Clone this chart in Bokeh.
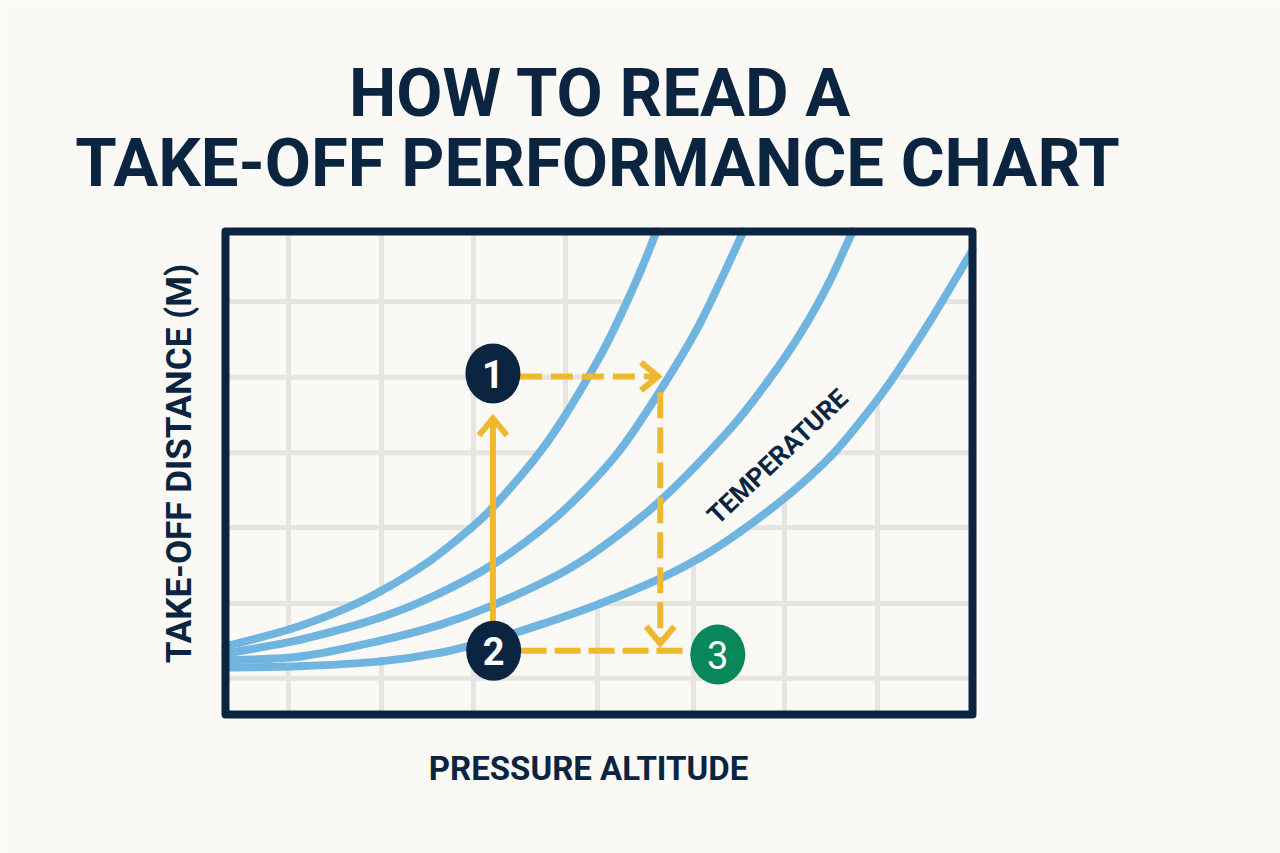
import numpy as np
from bokeh.plotting import figure
from bokeh.models import Range1d
from bokeh.core.properties import value
from bokeh.embed import file_html
from bokeh.resources import INLINE

# ---------------- data ----------------
TITLE_LINES = ["HOW TO READ A", "TAKE-OFF PERFORMANCE CHART"]
X_LABEL = "PRESSURE ALTITUDE"
Y_LABEL = "TAKE-OFF DISTANCE (M)"
CURVE_LABEL = "TEMPERATURE"

# chart box: pressure altitude 0-10000 ft, take-off distance 0-1000 m
ALT_MIN, ALT_MAX = 0, 10000
DIST_MIN, DIST_MAX = 0, 1000

# temperature curves (coolest -> hottest)
c1_alt = [0, 870, 1539, 2075, 2744, 3280, 3574, 4123, 4485, 5020, 5288, 5556, 5770]
c1_dist = [141, 177, 215, 255, 319, 385, 428, 526, 604, 743, 826, 918, 1000]

c2_alt = [0, 1004, 2075, 2878, 3574, 4217, 4752, 5288, 5877, 6359, 6934]
c2_dist = [126, 155, 201, 252, 310, 381, 456, 549, 685, 812, 1000]

c3_alt = [0, 1004, 2075, 2878, 3574, 4485, 5020, 5823, 6760, 7256, 7698, 8072, 8394]
c3_dist = [112, 120, 153, 186, 226, 292, 344, 443, 592, 689, 789, 892, 1000]

c4_alt = [0, 1004, 2075, 2878, 3574, 4217, 5020, 5823, 6359, 6894, 7564, 8099, 8501, 8902, 9438, 10000]
c4_dist = [97, 100, 110, 128, 155, 186, 230, 282, 325, 379, 458, 534, 607, 689, 816, 961]

# grid positions (the illustration's grid differs above / below the curve band)
grid_top_alt = [843, 2088, 3320, 4552]
grid_bottom_alt = [843, 2088, 3320, 4980, 6265, 7483, 8728]
grid_dist = [855, 698, 542, 387, 230, 75]

# reading steps
step_labels = ["1", "2", "3"]
step_alt = [3580, 3590, 6590]
step_dist = [706, 132, 124]

# guide arrows: start / end, dash pattern, arrow head
arrow_alt0 = [3580, 3940, 5820, 3950]
arrow_dist0 = [190, 700, 667, 132]
arrow_alt1 = [3580, 5790, 5820, 6220]
arrow_dist1 = [613, 700, 147, 132]
arrow_dash = ["solid", "22 9", "26 9", "26 8"]
arrow_head = [True, True, True, False]

# curve label
label_alt, label_dist = 7390, 534

# ---------------- style ----------------
BG = "#faf9f5"
NAVY = "#0b2541"
BLUE = "#70b4e0"
GRID = "#e6e5e0"
YELLOW = "#eeb92f"
GREEN = "#07875a"
FONT = value("Roboto")

W, H = 1280, 853
BOX_L, BOX_R, BOX_T, BOX_B = 225, 972, 231, 714  # chart box in screen px
sx = (BOX_R - BOX_L) / (ALT_MAX - ALT_MIN)
sy = (BOX_B - BOX_T) / (DIST_MAX - DIST_MIN)

x_range = Range1d(ALT_MIN - BOX_L / sx, ALT_MAX + (W - BOX_R) / sx)
y_range = Range1d(DIST_MIN - (H - BOX_B) / sy, DIST_MAX + BOX_T / sy)


def px_x(px):
    return ALT_MIN + (px - BOX_L) / sx


def px_y(py):
    return DIST_MIN + (BOX_B - py) / sy


def smooth_segments(xs, ys):
    """Cubic Bezier pieces through the read points (chord-length Catmull-Rom),
    tangents computed in screen space so the curve is drawn smoothly."""
    X = np.asarray(xs, float) * sx
    Y = np.asarray(ys, float) * sy
    t = np.concatenate([[0.0], np.cumsum(np.hypot(np.diff(X), np.diff(Y)))])
    n = len(X)
    mx, my = np.zeros(n), np.zeros(n)
    for i in range(n):
        a, b = max(i - 1, 0), min(i + 1, n - 1)
        mx[i] = (X[b] - X[a]) / (t[b] - t[a])
        my[i] = (Y[b] - Y[a]) / (t[b] - t[a])
    h = np.diff(t)
    return dict(
        x0=X[:-1] / sx, y0=Y[:-1] / sy, x1=X[1:] / sx, y1=Y[1:] / sy,
        cx0=(X[:-1] + mx[:-1] * h / 3) / sx, cy0=(Y[:-1] + my[:-1] * h / 3) / sy,
        cx1=(X[1:] - mx[1:] * h / 3) / sx, cy1=(Y[1:] - my[1:] * h / 3) / sy,
    )


p = figure(width=W, height=H, x_range=x_range, y_range=y_range,
           x_axis_type=None, y_axis_type=None,
           output_backend="svg", toolbar_location=None,
           min_border=0, min_border_left=0, min_border_right=0,
           min_border_top=0, min_border_bottom=0)
p.background_fill_color = BG
p.border_fill_color = BG
p.outline_line_color = None
p.grid.visible = False

# ---------------- grid (outside the band between the curves) ----------------
gx0, gy0, gx1, gy1 = [], [], [], []
for a in grid_top_alt:
    top_curve = float(np.interp(a, c1_alt, c1_dist))
    if top_curve < DIST_MAX:
        gx0.append(a); gy0.append(top_curve); gx1.append(a); gy1.append(DIST_MAX)
for a in grid_bottom_alt:
    low_curve = float(np.interp(a, c4_alt, c4_dist))
    gx0.append(a); gy0.append(DIST_MIN); gx1.append(a); gy1.append(low_curve)
for d in grid_dist:
    left_end = float(np.interp(d, c1_dist, c1_alt)) if d >= c1_dist[0] else ALT_MIN
    if left_end > ALT_MIN:
        gx0.append(ALT_MIN); gy0.append(d); gx1.append(left_end); gy1.append(d)
    right_start = float(np.interp(d, c4_dist, c4_alt)) if d >= c4_dist[0] else ALT_MIN
    if right_start < ALT_MAX:
        gx0.append(right_start); gy0.append(d); gx1.append(ALT_MAX); gy1.append(d)
p.segment(x0=gx0, y0=gy0, x1=gx1, y1=gy1, line_color=GRID, line_width=5,
          line_cap="butt")

# ---------------- curves ----------------
for cx, cy in [(c1_alt, c1_dist), (c2_alt, c2_dist), (c3_alt, c3_dist), (c4_alt, c4_dist)]:
    s = smooth_segments(cx, cy)
    p.bezier(x0=s["x0"], y0=s["y0"], x1=s["x1"], y1=s["y1"],
             cx0=s["cx0"], cy0=s["cy0"], cx1=s["cx1"], cy1=s["cy1"],
             line_color=BLUE, line_width=8, line_cap="round")

# ---------------- chart box ----------------
p.quad(left=[ALT_MIN], right=[ALT_MAX], bottom=[DIST_MIN], top=[DIST_MAX],
       fill_color=None, line_color=NAVY, line_width=8, line_join="round")

# ---------------- guide arrows ----------------
for a0, d0, a1, d1, dash, head in zip(arrow_alt0, arrow_dist0, arrow_alt1,
                                      arrow_dist1, arrow_dash, arrow_head):
    p.line([a0, a1], [d0, d1], line_color=YELLOW, line_width=6, line_dash=dash,
           line_cap="butt")
    if head:
        vx, vy = (a1 - a0) * sx, (d1 - d0) * sy
        n = (vx ** 2 + vy ** 2) ** 0.5
        ux, uy = vx / n, vy / n
        back, half = 17, 14
        lx = (-ux * back - uy * half) / sx
        ly = (-uy * back + ux * half) / sy
        rx = (-ux * back + uy * half) / sx
        ry = (-uy * back - ux * half) / sy
        p.line([a1 + lx, a1, a1 + rx], [d1 + ly, d1, d1 + ry], line_color=YELLOW,
               line_width=6, line_join="miter", line_cap="butt")

# ---------------- step markers ----------------
p.ellipse(x=step_alt, y=step_dist, width=55, height=60, width_units="screen",
          height_units="screen", fill_color=[NAVY, NAVY, GREEN], line_color=None)
p.text(x=step_alt[:2], y=step_dist[:2], text=step_labels[:2], text_font=FONT,
       text_font_size="38px", text_font_style="bold", text_color="white",
       text_align="center", text_baseline="alphabetic")
p.text(x=step_alt[2:], y=step_dist[2:], text=step_labels[2:], text_font=FONT,
       text_font_size="38px", text_font_style="normal", text_color="white",
       text_align="center", text_baseline="alphabetic")

# ---------------- texts (anchored at the middle of the capitals) ----------------
p.text(x=[label_alt], y=[label_dist], text=[CURVE_LABEL], text_font=FONT,
       text_font_size="26px", text_font_style="bold", text_color=NAVY,
       text_align="center", text_baseline="alphabetic", angle=0.76)

p.text(x=[px_x(600), px_x(597)], y=[px_y(92), px_y(162)], text=TITLE_LINES,
       text_font=FONT, text_font_size="67px", text_font_style="bold",
       text_color=NAVY, text_align="center", text_baseline="alphabetic")

p.text(x=[px_x(588)], y=[px_y(768)], text=[X_LABEL], text_font=FONT,
       text_font_size="33px", text_font_style="bold", text_color=NAVY,
       text_align="center", text_baseline="alphabetic")

p.text(x=[px_x(179)], y=[px_y(463)], text=[Y_LABEL], text_font=FONT,
       text_font_size="35px", text_font_style="bold", text_color=NAVY,
       text_align="center", text_baseline="alphabetic", angle=np.pi / 2)

open("out.html", "w").write(file_html(p, INLINE))
